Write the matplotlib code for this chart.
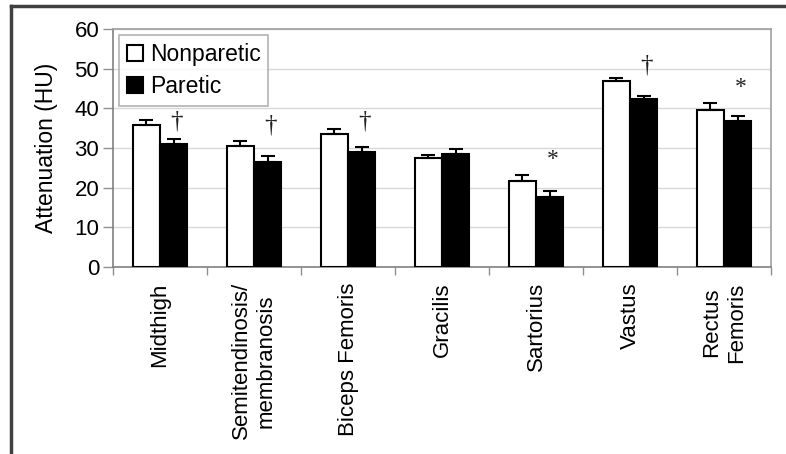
import numpy as np
import matplotlib
matplotlib.use('Agg')
import matplotlib.pyplot as plt
from matplotlib.lines import Line2D

plt.rcParams['font.family'] = ['Liberation Sans', 'DejaVu Sans']

muscles = ['Midthigh', 'Semitendinosis/\nmembranosis', 'Biceps Femoris', 'Gracilis',
           'Sartorius', 'Vastus', 'Rectus\nFemoris']
nonparetic = [35.8, 30.6, 33.6, 27.5, 21.7, 46.9, 39.7]
nonparetic_err = [1.2, 1.1, 1.2, 0.7, 1.6, 0.8, 1.6]
paretic = [31.0, 26.4, 29.1, 28.6, 17.6, 42.4, 36.7]
paretic_err = [1.2, 1.5, 1.1, 1.2, 1.5, 0.7, 1.5]
signif = ['†', '†', '†', '', '*', '†', '*']
signif_y = [36.8, 35.6, 36.6, 0, 27.0, 50.7, 45.3]

fig = plt.figure(figsize=(7.86, 4.54), dpi=100)
ax = fig.add_axes([0.1438, 0.4119, 0.981 - 0.1438, 0.936 - 0.4119])

x = np.arange(len(muscles))
w = 0.29
ax.bar(x - w/2, nonparetic, w, color='white', edgecolor='black', linewidth=1.5,
       label='Nonparetic', zorder=3)
ax.bar(x + w/2, paretic, w, color='black', edgecolor='black', linewidth=1.5,
       label='Paretic', zorder=3)
ax.errorbar(x - w/2, nonparetic, yerr=[np.zeros(len(x)), nonparetic_err], fmt='none',
            ecolor='black', elinewidth=1.5, capsize=5, capthick=1.5, zorder=4)
ax.errorbar(x + w/2, paretic, yerr=[np.zeros(len(x)), paretic_err], fmt='none',
            ecolor='black', elinewidth=1.5, capsize=5, capthick=1.5, zorder=4)

for i, s in enumerate(signif):
    if s:
        ax.text(x[i] + w/2 + 0.03, signif_y[i], s, ha='center', va='center',
                fontsize=18 if s == '†' else 17,
                family=['Liberation Serif', 'DejaVu Serif'], color='#222222')

ax.set_xlim(-0.5, len(muscles) - 0.5)
ax.set_ylim(0, 60)
ax.set_yticks(range(0, 61, 10))
ax.set_ylabel('Attenuation (HU)', fontsize=16.5, labelpad=12)
ax.tick_params(axis='y', labelsize=16, length=7, color='#909090', width=1, pad=3)

ax.set_xticks(x)
ax.set_xticklabels(muscles, rotation=90, fontsize=16, va='top', ha='center')
ax.tick_params(axis='x', length=0, pad=11)
ax.set_xticks(np.arange(-0.5, len(muscles), 1), minor=True)
ax.tick_params(axis='x', which='minor', length=6, color='#909090', width=1)

ax.grid(axis='y', color='#d8d8d8', linewidth=1, zorder=0)
ax.set_axisbelow(True)
for side in ['top', 'right']:
    ax.spines[side].set_color('#a0a0a0')
    ax.spines[side].set_linewidth(1.2)
for side in ['left', 'bottom']:
    ax.spines[side].set_color('#808080')
    ax.spines[side].set_linewidth(1.2)

leg = ax.legend(loc='upper left', fontsize=16.5, fancybox=False, edgecolor='#a0a0a0',
                handlelength=0.7, handleheight=0.7, handletextpad=0.3,
                borderaxespad=0.25, labelspacing=0.4, borderpad=0.35)
leg.get_frame().set_linewidth(1.2)

# outer frame lines
fig.add_artist(Line2D([11/786, 11/786], [0, 1 - 6/454], transform=fig.transFigure,
                      color='#404040', linewidth=2.5))
fig.add_artist(Line2D([11/786, 1], [1 - 6/454, 1 - 6/454], transform=fig.transFigure,
                      color='#404040', linewidth=2.5))

fig.savefig('out.png', dpi=100)
